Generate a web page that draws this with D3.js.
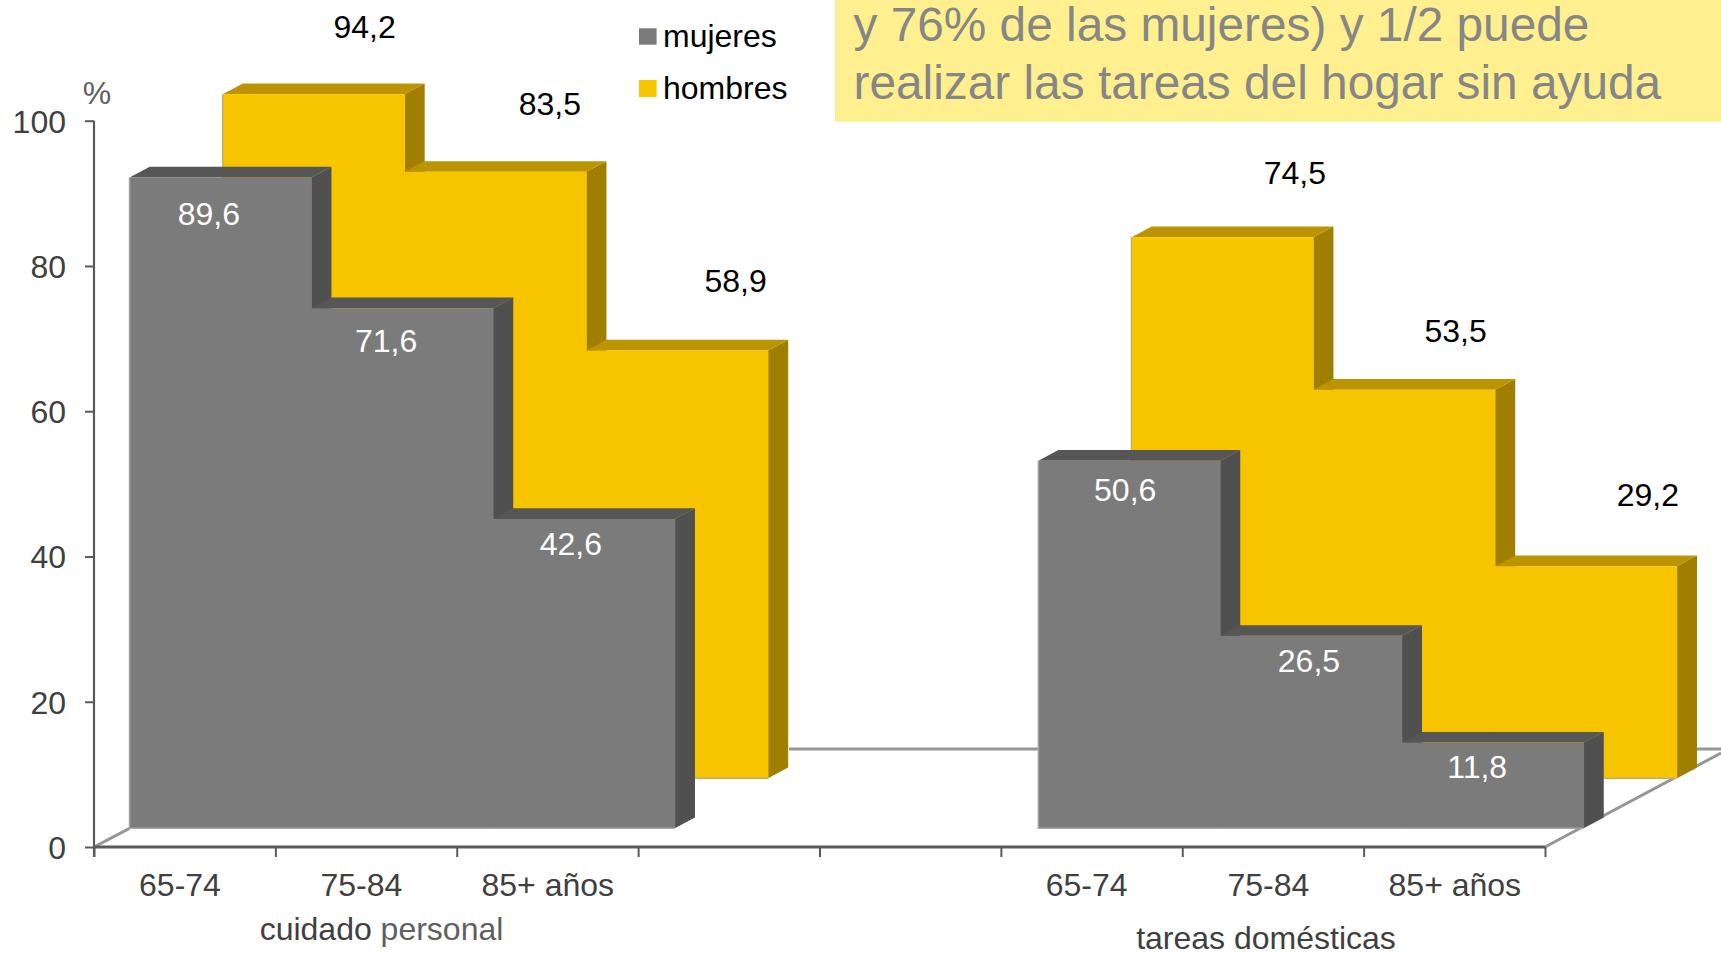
<!DOCTYPE html>
<html><head><meta charset="utf-8">
<script src="https://cdn.jsdelivr.net/npm/d3@7/dist/d3.min.js"></script>
<style>html,body{margin:0;padding:0;background:#fff}svg{display:block}text{font-family:"Liberation Sans",Arial,sans-serif}</style>
</head><body><svg id="c" width="1721" height="953"></svg>
<script>
// ---- data ----
const ageLabels = ["65-74","75-84","85+ años"];
const groupLabels = ["cuidado personal","tareas domésticas"];
const mujeresCuidado = [89.6,71.6,42.6];
const hombresCuidado = [94.2,83.5,58.9];
const mujeresTareas = [50.6,26.5,11.8];
const hombresTareas = [74.5,53.5,29.2];
const yTicks = [0,20,40,60,80,100];
const seriesNames = ["mujeres","hombres"];
const bannerLines = ["y 76% de las mujeres) y 1/2 puede","realizar las tareas del hogar sin ayuda"];

// ---- layout ----
const W=1721,H=953;
const slot=d3.scaleLinear().domain([0,8]).range([94,1545]);
const barSlot=d3.scaleLinear().domain([0,5]).range([0,908.8]);
const y=d3.scaleLinear().domain([0,100]).range([847,120.7]);
const fmt=v=>String(v.toFixed(1)).replace(".",",");
const sideDx=20.2, sideDy=-10.7;
const depth={mujeres:{x:129.5,dy:-18.7},hombres:{x:222.7,dy:-68.7}};
const pal={
 mujeres:{front:"#7b7b7b",side:"#505050",top:"#565656",label:"#fff",edge:"#a6a6a6"},
 hombres:{front:"#f7c400",side:"#a07f00",top:"#bc9300",label:"#000",edge:"#c4b25c"}
};
const groupStart=[0,5];
// label placement relative to each bar's centre / top (x nudge, y nudge)
const nudge={
 mujeres:[[[-11.5,47.6],[-16,43.6],[-13,36.2]],[[-4,40.2],[-2,36.2],[-15.5,35]]],
 hombres:[[[51,-56.5],[54.5,-56.8],[58.5,-58.6]],[[72.5,-53.4],[51.5,-47.8],[62,-60.3]]]
};
const ageNudge=[[-4.7,-4.7,0.3],[-5,-4.5,0.5]];

const svg=d3.select("#c");
const poly=d3.line();
const FS=32;

// banner
svg.append("rect").attr("x",835).attr("y",0).attr("width",W-835).attr("height",121.7).attr("fill","#fff08f");
svg.selectAll(".ban").data(bannerLines).join("text").attr("class","ban")
  .attr("x",853.5).attr("y",(d,i)=>i?98.7:41).attr("font-size",47.8).attr("fill","#868686").text(d=>d);

// floor
const floorC="#969696";
const floor=svg.append("g").attr("fill","none");
floor.append("path").attr("d",poly([[slot(0),y(0)],[slot(0)+35.5,y(0)-18.7]])).attr("stroke",floorC).attr("stroke-width",3);
floor.append("path").attr("d",poly([[789,749],[W,749]])).attr("stroke",floorC).attr("stroke-width",3);
floor.append("path").attr("d",poly([[slot(8),y(0)],[W,753]])).attr("stroke",floorC).attr("stroke-width",3);

// bars
function drawSeries(name,groups){
  const p=pal[name],d=depth[name];
  const g=svg.append("g").attr("class",name);
  groups.forEach((vals,gi)=>{
    const bars=vals.map((v,i)=>{
      const x0=d.x+barSlot(groupStart[gi]+i), x1=d.x+barSlot(groupStart[gi]+i+1);
      return {v,i,x0,x1,top:y(v)+d.dy,bot:y(0)+d.dy};
    });
    const gb=g.append("g");
    gb.selectAll(".side").data(bars).join("path").attr("class","side").attr("fill",p.side)
      .attr("d",b=>poly([[b.x1,b.top],[b.x1+sideDx,b.top+sideDy],[b.x1+sideDx,b.bot+sideDy],[b.x1,b.bot]])+"Z");
    gb.selectAll(".top").data(bars).join("path").attr("class","top").attr("fill",p.top)
      .attr("d",b=>poly([[b.x0,b.top],[b.x0+sideDx,b.top+sideDy],[b.x1+sideDx,b.top+sideDy],[b.x1,b.top]])+"Z");
    gb.selectAll(".front").data(bars).join("rect").attr("class","front").attr("fill",p.front)
      .attr("x",b=>b.x0).attr("y",b=>b.top).attr("width",b=>b.x1-b.x0+0.5).attr("height",b=>b.bot-b.top);
    // faint light edge on the left and bottom of the solid
    gb.append("path").attr("fill","none").attr("stroke",p.edge).attr("stroke-width",1.5)
      .attr("d",poly([[bars[0].x0,bars[0].top],[bars[0].x0,bars[0].bot],[bars[2].x1,bars[0].bot]]));
    gb.selectAll(".lab").data(bars).join("text").attr("class","lab")
      .attr("x",b=>(b.x0+b.x1)/2+nudge[name][gi][b.i][0])
      .attr("y",b=>b.top+nudge[name][gi][b.i][1])
      .attr("text-anchor","middle").attr("font-size",FS).attr("fill",p.label)
      .text(b=>fmt(b.v));
  });
}
drawSeries("hombres",[hombresCuidado,hombresTareas]);
drawSeries("mujeres",[mujeresCuidado,mujeresTareas]);

// axes
const axisC="#5a5a5a";
const yAxis=svg.append("g").attr("transform","translate(94,0)").call(d3.axisLeft(y).tickValues(yTicks).tickSize(9).tickPadding(19).tickFormat(d=>d));
yAxis.select(".domain").attr("stroke",axisC).attr("stroke-width",2.2).attr("d","M0,"+y(100)+"V"+(y(0)+10));
yAxis.selectAll(".tick line").attr("stroke",axisC).attr("stroke-width",2);
yAxis.selectAll(".tick text").attr("font-family","Liberation Sans").attr("font-size",FS).attr("fill","#404040").attr("dy",11.5);

const xAxis=svg.append("g").attr("transform",`translate(0,${y(0)})`).call(d3.axisBottom(slot).tickValues(d3.range(0,9)).tickSize(10).tickFormat(""));
xAxis.select(".domain").attr("stroke",axisC).attr("stroke-width",3).attr("d",`M${slot(0)},0H${slot(8)}`);
xAxis.selectAll(".tick line").attr("stroke",axisC).attr("stroke-width",2);

groupStart.forEach((s,gi)=>{
  svg.append("g").selectAll("text").data(ageLabels).join("text")
    .attr("x",(d,i)=>(slot(s+i)+slot(s+i+1))/2+ageNudge[gi][i]).attr("y",896)
    .attr("text-anchor","middle").attr("font-size",FS).attr("fill","#404040").text(d=>d);
});
const gl=svg.append("text").attr("x",381.5).attr("y",940).attr("text-anchor","middle").attr("font-size",FS).attr("fill","#404040");
const glp=groupLabels[0].split(" ");
gl.append("tspan").text(glp[0]+" ");
gl.append("tspan").attr("fill","#606060").text(glp[1]);
svg.append("text").attr("x",1266).attr("y",948.5).attr("text-anchor","middle").attr("font-size",FS).attr("fill","#404040").text(groupLabels[1]);
svg.append("text").attr("x",97).attr("y",103.5).attr("text-anchor","middle").attr("font-size",FS).attr("fill","#606060").text("%");

// legend
const leg=svg.append("g").selectAll("g").data(seriesNames).join("g");
leg.append("rect").attr("x",639).attr("y",(d,i)=>i?80:28.3).attr("width",17.6).attr("height",(d,i)=>i?17:16.4).attr("fill",d=>pal[d].front);
leg.append("text").attr("x",663).attr("y",(d,i)=>i?99:47).attr("font-size",FS).attr("fill","#000").text(d=>d);
</script></body></html>
